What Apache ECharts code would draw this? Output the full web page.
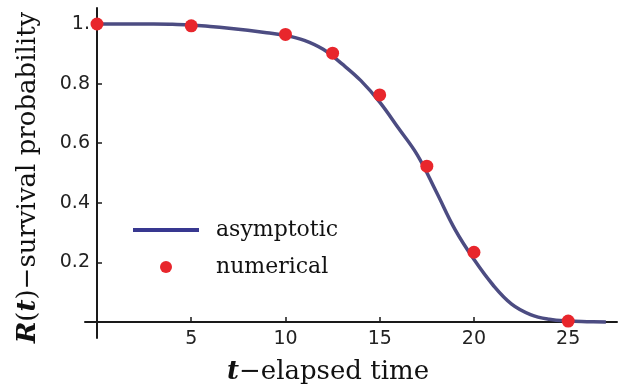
<!DOCTYPE html>
<html>
<head>
<meta charset="utf-8">
<script src="https://cdn.jsdelivr.net/npm/echarts@6/dist/echarts.min.js"></script>
<style>html,body{margin:0;padding:0;background:#fff}#c{width:621px;height:385px}</style>
</head>
<body>
<div id="c"></div>
<script>
// asymptotic curve R(t)
const curveT = [0,1,2,3,4,5,6,7,8,9,10,11,12,13,14,15,16,17,18,19,20,21,22,23,24,25,26,27];
const curveR = [1,1,1,1,0.999,0.997,0.992,0.986,0.979,0.971,0.962,0.945,0.915,0.866,0.81,0.738,0.65,0.56,0.437,0.31,0.21,0.125,0.06,0.025,0.009,0.003,0.001,0];
// numerical points
const numT = [0,5,10,12.5,15,17.5,20,25];
const numR = [1.0,0.994,0.965,0.902,0.762,0.523,0.234,0.003];
// tick labels
const xTicks = [5,10,15,20,25];
const yTicks = [0.2,0.4,0.6,0.8,1.0];

const chart = echarts.init(document.getElementById('c'));
const axisColor = '#1a1a1a';
chart.setOption({
  animation: false,
  grid: {left: 85, right: 4, top: 8, bottom: 47, containLabel: false, outerBoundsMode: 'none'},
  legend: {
    left: 133, top: 219, orient: 'vertical', padding: 0,
    itemWidth: 66, itemHeight: 12, itemGap: 15,
    textStyle: {fontFamily: 'DejaVu Serif', fontSize: 22, color: '#111', padding: [0,0,0,12]},
    data: [
      {name: 'asymptotic', icon: 'path://M0,0H66V4H0Z', itemStyle: {color: '#383890'}},
      {name: 'numerical', icon: 'circle', itemStyle: {color: '#e8262c', opacity: 1}}
    ]
  },
  xAxis: {
    type: 'value', min: -0.637, max: 27.59, position: 'bottom', offset: -16,
    axisLine: {onZero: false, lineStyle: {color: axisColor, width: 2}},
    axisTick: {show: true, inside: true, length: 5, customValues: xTicks, lineStyle: {color: axisColor, width: 1.5}},
    axisLabel: {customValues: xTicks, margin: 8, fontFamily: 'DejaVu Sans', fontSize: 19, color: '#222'},
    splitLine: {show: false},
    name: '{b|t}−elapsed time',
    nameLocation: 'middle', nameGap: 37, nameMoveOverlap: false,
    nameTextStyle: {fontFamily: 'DejaVu Serif', fontSize: 26, color: '#111', padding: [0,46,0,0],
      rich: {b: {fontFamily: 'DejaVu Serif', fontSize: 26, fontWeight: 'bold', fontStyle: 'italic', color: '#111'}}}
  },
  yAxis: {
    type: 'value', min: -0.0537, max: 1.0537, position: 'left', offset: -12,
    axisLine: {show: true, onZero: false, lineStyle: {color: axisColor, width: 2}},
    axisTick: {show: true, inside: true, length: 5, customValues: yTicks, lineStyle: {color: axisColor, width: 1.5}},
    axisLabel: {customValues: yTicks, margin: 7, fontFamily: 'DejaVu Sans', fontSize: 19, color: '#222',
      formatter: v => (Math.abs(v - 1) < 1e-9 ? '1.' : v.toFixed(1))},
    splitLine: {show: false},
    name: '{b|R}({b|t})−survival probability',
    nameLocation: 'middle', nameRotate: 90, nameGap: 56, nameMoveOverlap: false,
    nameTextStyle: {fontFamily: 'DejaVu Serif', fontSize: 26, color: '#111', padding: [0,9,0,0],
      rich: {b: {fontFamily: 'DejaVu Serif', fontSize: 26, fontWeight: 'bold', fontStyle: 'italic', color: '#111'}}}
  },
  series: [
    {
      name: 'asymptotic', type: 'line', smooth: 0.4,
      symbol: 'none', color: '#4c4c82',
      lineStyle: {width: 3.5, color: '#4c4c82'},
      data: curveT.map((t, i) => [t, curveR[i]]), z: 2
    },
    {
      name: 'numerical', type: 'scatter', symbol: 'circle', symbolSize: 13,
      itemStyle: {color: '#e8262c', opacity: 1},
      data: numT.map((t, i) => [t, numR[i]]), z: 3
    }
  ]
});
</script>
</body>
</html>
